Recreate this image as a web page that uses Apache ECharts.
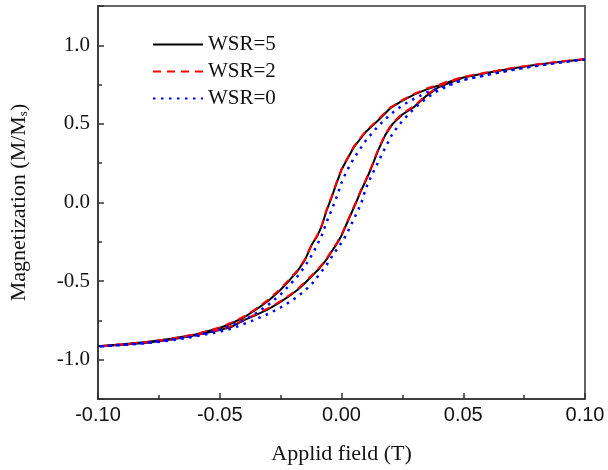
<!DOCTYPE html>
<html lang="en">
  <head>
    <meta charset="UTF-8" />
    <title>Hysteresis loops</title>
    <style>
      * {
        padding: 0;
        margin: 0;
      }
      #chart {
        width: 608px;
        height: 470px;
        background: #fff;
      }
    </style>
    <script src="https://cdn.jsdelivr.net/npm/echarts@6/dist/echarts.min.js"></script>
  </head>
  <body>
    <div id="chart"></div>
    <script type="text/javascript">
      // field sweep, descending branch (+0.1 -> -0.1)
      const fieldDown = [0.100, 0.090, 0.080, 0.070, 0.060, 0.050, 0.045, 0.040, 0.035, 0.030, 0.025, 0.020, 0.015, 0.010, 0.005, 0.002, 0.000, -0.002, -0.004, -0.006, -0.008, -0.010, -0.012, -0.015, -0.018, -0.021, -0.025, -0.030, -0.035, -0.040, -0.045, -0.050, -0.060, -0.070, -0.080, -0.090, -0.100]
      const wsr5Down = [0.912, 0.895, 0.876, 0.852, 0.825, 0.795, 0.772, 0.745, 0.720, 0.688, 0.648, 0.600, 0.522, 0.450, 0.350, 0.265, 0.208, 0.125, 0.035, -0.045, -0.145, -0.215, -0.262, -0.365, -0.435, -0.488, -0.555, -0.625, -0.680, -0.730, -0.768, -0.798, -0.840, -0.867, -0.888, -0.902, -0.915]
      const wsr2Down = [0.913, 0.897, 0.878, 0.855, 0.828, 0.799, 0.777, 0.750, 0.725, 0.692, 0.652, 0.604, 0.528, 0.455, 0.355, 0.270, 0.212, 0.130, 0.040, -0.040, -0.140, -0.210, -0.258, -0.360, -0.430, -0.482, -0.548, -0.618, -0.675, -0.725, -0.763, -0.795, -0.838, -0.866, -0.887, -0.902, -0.915]
      const wsr0Down = [0.910, 0.891, 0.869, 0.843, 0.812, 0.780, 0.755, 0.728, 0.700, 0.662, 0.618, 0.560, 0.485, 0.395, 0.280, 0.195, 0.125, 0.035, -0.045, -0.120, -0.205, -0.270, -0.330, -0.405, -0.468, -0.520, -0.585, -0.650, -0.703, -0.748, -0.782, -0.808, -0.846, -0.872, -0.892, -0.905, -0.916]

      // field sweep, ascending branch (-0.1 -> +0.1)
      const fieldUp = [-0.100, -0.090, -0.080, -0.070, -0.060, -0.050, -0.045, -0.040, -0.035, -0.030, -0.025, -0.021, -0.018, -0.015, -0.012, -0.009, -0.006, -0.004, -0.002, 0.000, 0.002, 0.004, 0.006, 0.008, 0.010, 0.012, 0.015, 0.018, 0.021, 0.025, 0.030, 0.035, 0.040, 0.045, 0.050, 0.060, 0.070, 0.080, 0.090, 0.100]
      const wsr5Up = [-0.915, -0.905, -0.892, -0.872, -0.845, -0.812, -0.790, -0.748, -0.715, -0.678, -0.632, -0.590, -0.555, -0.512, -0.465, -0.418, -0.360, -0.310, -0.265, -0.210, -0.140, -0.070, 0.000, 0.075, 0.140, 0.210, 0.330, 0.430, 0.500, 0.560, 0.610, 0.680, 0.735, 0.765, 0.795, 0.825, 0.852, 0.876, 0.895, 0.912]
      const wsr2Up = [-0.915, -0.904, -0.890, -0.870, -0.842, -0.808, -0.786, -0.744, -0.710, -0.672, -0.627, -0.585, -0.550, -0.506, -0.460, -0.412, -0.355, -0.305, -0.260, -0.205, -0.135, -0.065, 0.005, 0.080, 0.145, 0.216, 0.336, 0.436, 0.506, 0.566, 0.616, 0.686, 0.740, 0.770, 0.799, 0.828, 0.855, 0.878, 0.897, 0.913]
      const wsr0Up = [-0.916, -0.907, -0.895, -0.877, -0.852, -0.822, -0.802, -0.772, -0.742, -0.708, -0.668, -0.630, -0.598, -0.560, -0.515, -0.455, -0.395, -0.345, -0.300, -0.255, -0.205, -0.140, -0.075, -0.010, 0.090, 0.160, 0.255, 0.350, 0.440, 0.520, 0.600, 0.665, 0.715, 0.750, 0.780, 0.812, 0.843, 0.869, 0.891, 0.910]

      const seriesNames = ['WSR=5', 'WSR=2', 'WSR=0']

      // build a closed loop: descending then ascending branch
      function loop(down, up) {
        const pts = []
        for (let i = 0; i < fieldDown.length; i++) pts.push([fieldDown[i], down[i]])
        for (let i = 1; i < fieldUp.length; i++) pts.push([fieldUp[i], up[i]])
        return pts
      }

      const serif = 'Liberation Serif, Times New Roman, serif'
      const sans = 'Liberation Sans, Arial, sans-serif'
      const frame = '#333'

      const chart = echarts.init(document.getElementById('chart'))

      const option = {
        animation: false,
        backgroundColor: '#fff',
        grid: {
          left: 98,
          right: 23,
          top: 6,
          bottom: 69,
          show: true,
          borderColor: frame,
          borderWidth: 1.5,
        },
        legend: {
          orient: 'vertical',
          left: 147,
          top: 29,
          itemWidth: 50,
          itemHeight: 14,
          itemGap: 6,
          itemStyle: { opacity: 0 },
          textStyle: { fontFamily: serif, fontSize: 21, color: '#111' },
          data: seriesNames,
        },
        xAxis: {
          type: 'value',
          min: -0.1,
          max: 0.1,
          interval: 0.05,
          name: 'Applid field (T)',
          nameLocation: 'middle',
          nameGap: 44,
          nameTextStyle: { fontFamily: serif, fontSize: 22, color: '#111' },
          axisLine: { onZero: false, lineStyle: { color: frame, width: 1.5 } },
          axisTick: { inside: true, length: 6, lineStyle: { color: frame, width: 1.5 } },
          minorTick: { show: true, splitNumber: 2, length: 4, lineStyle: { color: frame, width: 1.5 } },
          splitLine: { show: false },
          axisLabel: {
            margin: 6,
            fontFamily: sans,
            fontSize: 20,
            color: '#111',
            formatter: function (v) {
              return Math.abs(v) < 1e-9 ? '0.00' : v.toFixed(2)
            },
          },
        },
        yAxis: {
          type: 'value',
          min: -1.25,
          max: 1.25,
          name: 'Magnetization (M/M{sub|s})',
          nameLocation: 'middle',
          nameGap: 68,
          nameTextStyle: {
            fontFamily: serif,
            fontSize: 22,
            color: '#111',
            rich: {
              sub: { fontFamily: serif, fontSize: 13, color: '#111', verticalAlign: 'bottom', padding: [9, 0, 0, 0] },
            },
          },
          axisLine: { onZero: false, lineStyle: { color: frame, width: 1.5 } },
          axisTick: { inside: true, length: 6, lineStyle: { color: frame, width: 1.5 } },
          minorTick: { show: true, splitNumber: 2, length: 4, lineStyle: { color: frame, width: 1.5 } },
          splitLine: { show: false },
          axisLabel: {
            margin: 8,
            fontFamily: serif,
            fontSize: 21,
            color: '#111',
            formatter: function (v) {
              const r = Math.round(v * 2) / 2
              if (Math.abs(v - r) > 1e-6) return ''
              return Math.abs(v) < 1e-9 ? '0.0' : v.toFixed(1)
            },
          },
        },
        series: [
          {
            name: 'WSR=5',
            type: 'line',
            symbol: 'none',
            data: loop(wsr5Down, wsr5Up),
            lineStyle: { color: '#000', width: 2 },
            itemStyle: { color: '#000' },
          },
          {
            name: 'WSR=2',
            type: 'line',
            symbol: 'none',
            data: loop(wsr2Down, wsr2Up),
            lineStyle: { color: '#ff0000', width: 2, type: [8, 6] },
            itemStyle: { color: '#ff0000' },
          },
          {
            name: 'WSR=0',
            type: 'line',
            symbol: 'none',
            data: loop(wsr0Down, wsr0Up),
            lineStyle: { color: '#0000ff', width: 2.5, type: [2.5, 5.5] },
            itemStyle: { color: '#0000ff' },
          },
        ],
      }

      chart.setOption(option)
    </script>
  </body>
</html>
